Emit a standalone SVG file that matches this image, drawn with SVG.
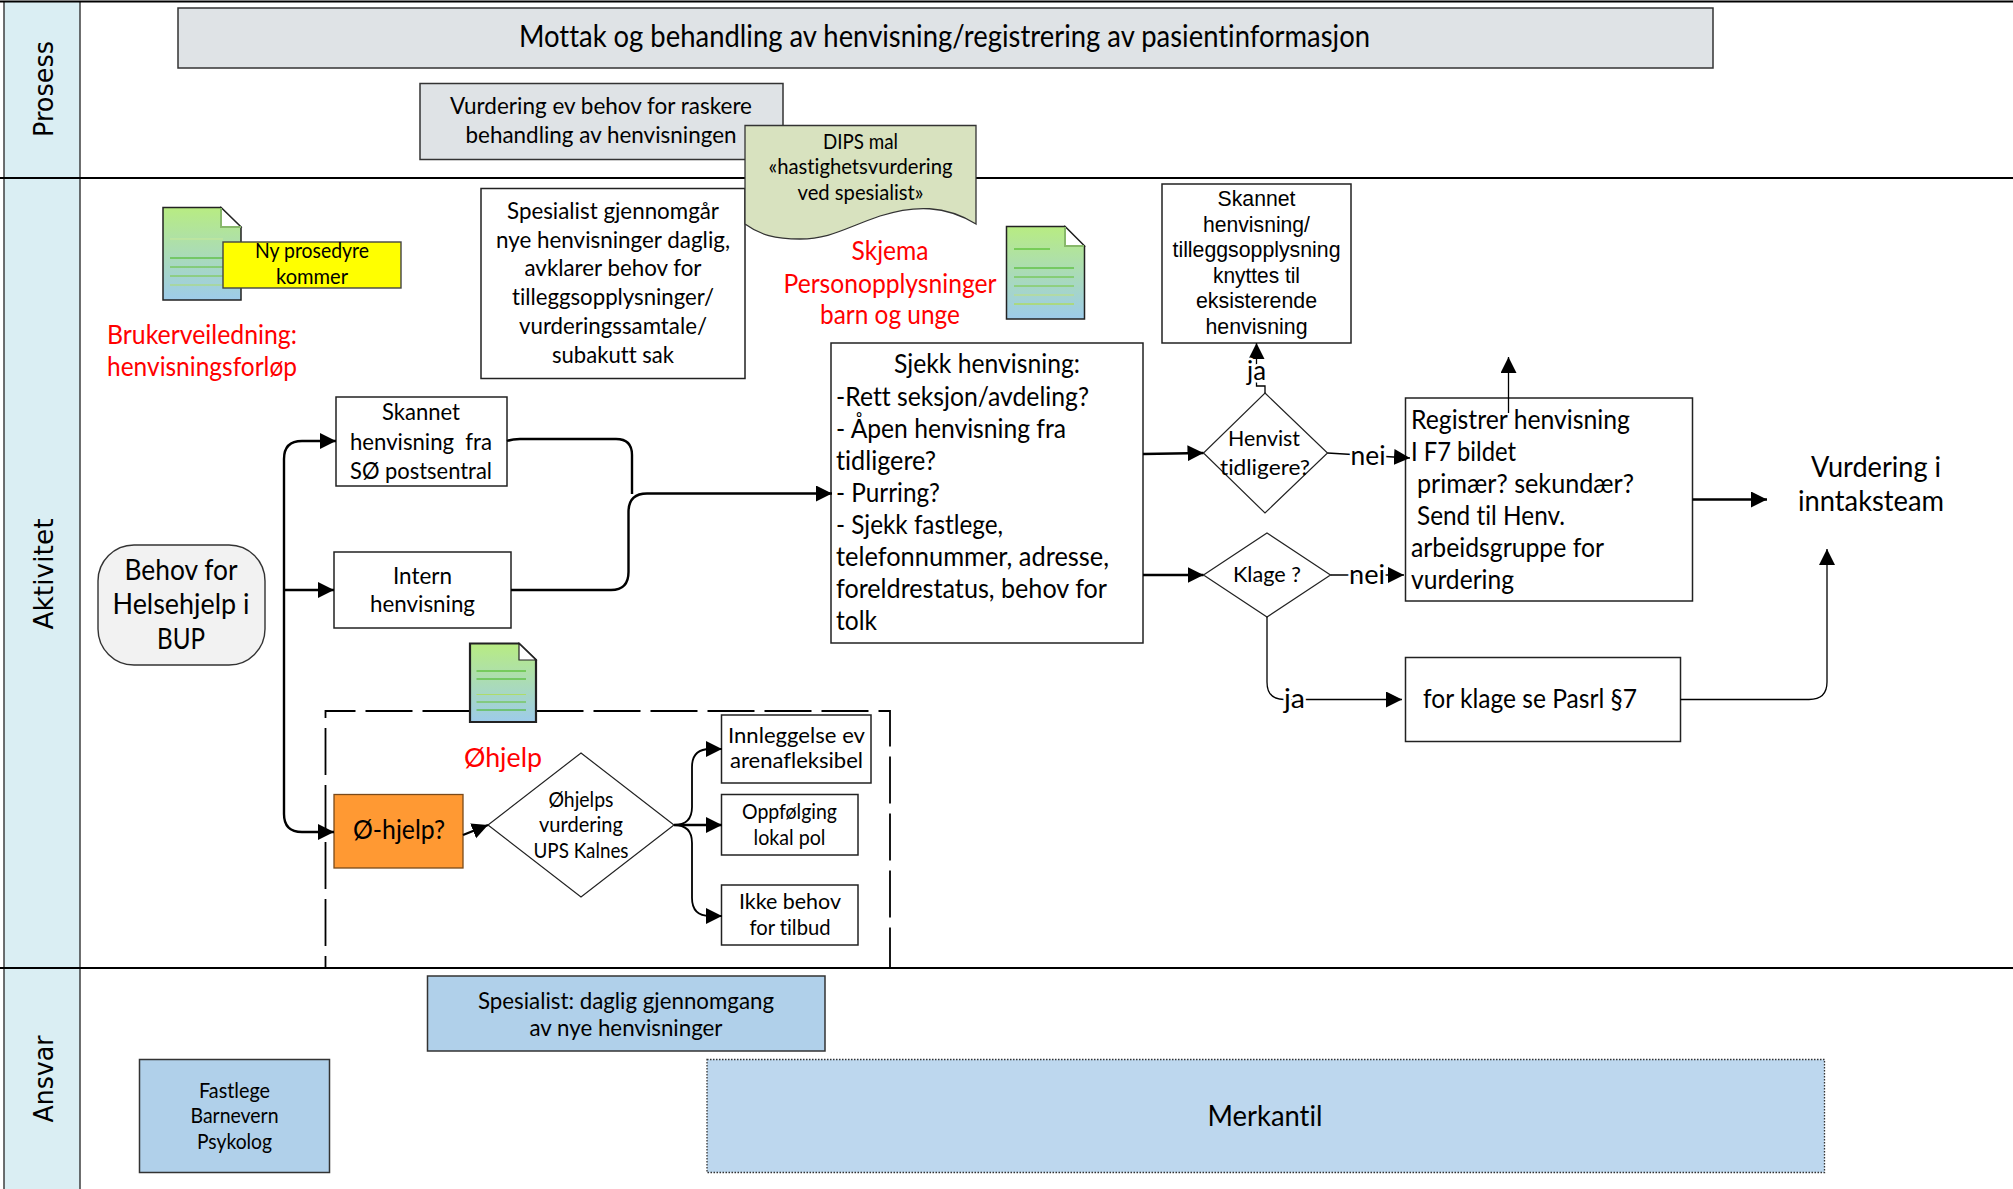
<svg xmlns="http://www.w3.org/2000/svg" width="2013" height="1189" viewBox="0 0 2013 1189">
<style>
text{font-family:Lato,"Liberation Sans",sans-serif;fill:#000;text-anchor:middle;font-variant-ligatures:none}
.l{text-anchor:start}
.r{fill:#f00;font-size:26.5px}
.a{font-family:"Liberation Sans",Arial,sans-serif;font-size:22.5px}
.lane{font-family:"DejaVu Sans",Verdana,sans-serif;font-size:27px}
.s20{font-size:21px}.s21{font-size:22px}.s22{font-size:23.5px}.s25{font-size:26.5px}.s27{font-size:28.5px}.s28{font-size:30px}
.box{fill:#fff;stroke:#222;stroke-width:1.5}
.grey{fill:#dfe3e6;stroke:#333;stroke-width:1.5}
.blue{fill:#b0d0ea;stroke:#333;stroke-width:1.5}
.doc{fill:url(#docg);stroke:#222;stroke-width:1.5}
.fold{fill:#fff;stroke:#222;stroke-width:1.2}
.foldb{fill:none;stroke:#88b86a;stroke-width:2}
.c{fill:none;stroke:#000;stroke-width:2.4}
.t{fill:none;stroke:#000;stroke-width:1.3}
.sep{stroke:#000;stroke-width:2.2}
.halo{stroke:#fff;stroke-width:5px;paint-order:stroke}
</style>
<defs>
<linearGradient id="docg" x1="0" y1="0" x2="0" y2="1"><stop offset="0" stop-color="#b8ec82"/><stop offset="1" stop-color="#9dcbea"/></linearGradient>
<marker id="ar" markerUnits="userSpaceOnUse" markerWidth="17" markerHeight="17" refX="16" refY="8" orient="auto"><path d="M0 0L16 8L0 16Z" fill="#000"/></marker>
</defs>
<rect width="2013" height="1189" fill="#fff"/>
<g id="lanes">
<rect x="4" y="1" width="76" height="1188" fill="#daeef3"/>
<path d="M4 1V1189M80 1V1189" stroke="#333" stroke-width="1.4" fill="none"/>
<path class="sep" d="M0 1.5H2013M0 178H2013M0 968H2013"/>
<text class="lane" transform="translate(53 89) rotate(-90)" textLength="96" lengthAdjust="spacingAndGlyphs">Prosess</text>
<text class="lane" transform="translate(53 574) rotate(-90)" textLength="111" lengthAdjust="spacingAndGlyphs">Aktivitet</text>
<text class="lane" transform="translate(53 1079) rotate(-90)" textLength="87" lengthAdjust="spacingAndGlyphs">Ansvar</text>
</g>
<g id="n-mottak"><rect class="grey" x="178" y="8" width="1535" height="60"/>
<text class="s28" x="944.5" y="47" textLength="851" lengthAdjust="spacingAndGlyphs">Mottak og behandling av henvisning/registrering av pasientinformasjon</text></g>
<g id="n-vurdering-raskere"><rect class="grey" x="420" y="83.500" width="363" height="76"/>
<text class="s22" x="601" y="114" textLength="302" lengthAdjust="spacingAndGlyphs">Vurdering ev behov for raskere</text>
<text class="s22" x="601" y="143" textLength="271" lengthAdjust="spacingAndGlyphs">behandling av henvisningen</text></g>
<g id="n-spesialist"><rect class="box" x="481" y="188.500" width="264" height="190"/>
<text class="s22" x="613" y="219" textLength="212" lengthAdjust="spacingAndGlyphs">Spesialist gjennomgår</text>
<text class="s22" x="613" y="247.500" textLength="234" lengthAdjust="spacingAndGlyphs">nye henvisninger daglig,</text>
<text class="s22" x="613" y="276" textLength="177" lengthAdjust="spacingAndGlyphs">avklarer behov for</text>
<text class="s22" x="613" y="305" textLength="202" lengthAdjust="spacingAndGlyphs">tilleggsopplysninger/</text>
<text class="s22" x="613" y="334" textLength="188" lengthAdjust="spacingAndGlyphs">vurderingssamtale/</text>
<text class="s22" x="613" y="363" textLength="122" lengthAdjust="spacingAndGlyphs">subakutt sak</text></g>
<g id="n-dips"><path d="M745 125.500H976V224C945 205 915 205 880 216C845 228 830 239 800 239C775 239 760 235 745 224Z" fill="#d8e2bf" stroke="#333" stroke-width="1.3"/>
<text class="s20" x="860.500" y="149" textLength="75" lengthAdjust="spacingAndGlyphs">DIPS mal</text>
<text class="s20" x="860.500" y="174" textLength="184" lengthAdjust="spacingAndGlyphs">«hastighetsvurdering</text>
<text class="s20" x="860.500" y="200" textLength="126" lengthAdjust="spacingAndGlyphs">ved spesialist»</text></g>
<g id="n-doc-brukerveiledning">
<path class="doc" d="M163 207.500H221L241 227V300H163Z"/>
<path class="fold" d="M221 207.500L241 227H221Z"/><path class="foldb" d="M221 208V227H241"/>
<path d="M170 239H223" stroke="#c8e89a"/><path d="M170 258H223" stroke="#3fb515"/><path d="M170 267H223" stroke="#62c030"/><path d="M170 276H223" stroke="#78c83a"/><path d="M170 285H223" stroke="#aedc6a"/>
<rect x="223" y="242" width="178" height="46" fill="#ff0" stroke="#444" stroke-width="1.4"/>
<text class="s20" x="312" y="258" textLength="114" lengthAdjust="spacingAndGlyphs">Ny prosedyre</text>
<text class="s20" x="312" y="284" textLength="72" lengthAdjust="spacingAndGlyphs">kommer</text>
<text class="r" x="202" y="344" textLength="190" lengthAdjust="spacingAndGlyphs">Brukerveiledning:</text>
<text class="r" x="202" y="376" textLength="190" lengthAdjust="spacingAndGlyphs">henvisningsforløp</text></g>
<g id="n-doc-skjema">
<path class="doc" d="M1006.500 226.500H1065L1084.500 246V319H1006.500Z"/>
<path class="fold" d="M1065 226.500L1084.500 246H1065Z"/><path class="foldb" d="M1065 227V246H1084"/>
<path d="M1014 249H1050M1014 268H1074" stroke="#3fb515"/><path d="M1014 277H1074" stroke="#62c030"/><path d="M1014 286H1074" stroke="#78c83a"/><path d="M1014 295H1074" stroke="#bfe07a"/><path d="M1014 304H1074" stroke="#b4e02a"/>
<text class="r" x="890" y="260" textLength="77" lengthAdjust="spacingAndGlyphs">Skjema</text>
<text class="r" x="890" y="293" textLength="213" lengthAdjust="spacingAndGlyphs">Personopplysninger</text>
<text class="r" x="890" y="324" textLength="140" lengthAdjust="spacingAndGlyphs">barn og unge</text></g>
<g id="n-behov"><rect x="98" y="545" width="167" height="120" rx="36" fill="#f2f2f2" stroke="#333" stroke-width="1.4"/>
<text class="s27" x="181" y="580" textLength="113" lengthAdjust="spacingAndGlyphs">Behov for</text>
<text class="s27" x="181" y="614" textLength="137" lengthAdjust="spacingAndGlyphs">Helsehjelp i</text>
<text class="s27" x="181" y="649" textLength="48" lengthAdjust="spacingAndGlyphs">BUP</text></g>
<g id="n-skannet-post"><rect class="box" x="336" y="397" width="171" height="89"/>
<text class="s22" x="421" y="420" textLength="78" lengthAdjust="spacingAndGlyphs">Skannet</text>
<text class="s22" x="421" y="449.500" textLength="142" lengthAdjust="spacingAndGlyphs" xml:space="preserve">henvisning  fra</text>
<text class="s22" x="421" y="478.500" textLength="142" lengthAdjust="spacingAndGlyphs">SØ postsentral</text></g>
<g id="n-intern"><rect class="box" x="334" y="552" width="177" height="76"/>
<text class="s22" x="422.500" y="583.500" textLength="59" lengthAdjust="spacingAndGlyphs">Intern</text>
<text class="s22" x="422.500" y="612" textLength="105" lengthAdjust="spacingAndGlyphs">henvisning</text></g>
<g id="n-ohjelp-gruppe">
<rect x="325.500" y="711" width="564.500" height="257" fill="none" stroke="#000" stroke-width="1.800" stroke-dasharray="47 10" stroke-dashoffset="17"/>
<path class="doc" style="stroke-width:2.200" d="M470 643.500H519L536 660V722H470Z"/>
<path class="fold" d="M519 643.500L536 660H519Z"/>
<path d="M476.500 671H526M476.500 679H526" stroke="#3fb515"/><path d="M476.500 694.500H526" stroke="#aedc6a"/><path d="M476.500 702H526" stroke="#62c030"/><path d="M476.500 710H526" stroke="#3fb515"/>
<text class="r" x="503" y="767" textLength="78" lengthAdjust="spacingAndGlyphs">Øhjelp</text></g>
<g id="n-ohjelp"><rect x="334" y="794.500" width="129" height="73.500" fill="#f93" stroke="#7a4a1a" stroke-width="1.300"/>
<text class="s25" x="399" y="838.500" textLength="92" lengthAdjust="spacingAndGlyphs">Ø-hjelp?</text></g>
<g id="n-ohjelp-vurdering"><path class="box" style="stroke-width:1.200" d="M581 753L674 825L581 897L488 825Z"/>
<text class="s20" x="581" y="806.500" textLength="65" lengthAdjust="spacingAndGlyphs">Øhjelps</text>
<text class="s20" x="581" y="831.500" textLength="84" lengthAdjust="spacingAndGlyphs">vurdering</text>
<text class="s20" x="581" y="857.500" textLength="95" lengthAdjust="spacingAndGlyphs">UPS Kalnes</text></g>
<g id="n-innleggelse"><rect class="box" x="721.500" y="715" width="149.500" height="68"/>
<text class="s21" x="796.500" y="743" textLength="137" lengthAdjust="spacingAndGlyphs">Innleggelse ev</text>
<text class="s21" x="796.500" y="768" textLength="133" lengthAdjust="spacingAndGlyphs">arenafleksibel</text></g>
<g id="n-oppfolging"><rect class="box" x="721.500" y="794.500" width="136.500" height="60.500"/>
<text class="s20" x="789.500" y="818.500" textLength="95" lengthAdjust="spacingAndGlyphs">Oppfølging</text>
<text class="s20" x="789.500" y="844.500" textLength="72" lengthAdjust="spacingAndGlyphs">lokal pol</text></g>
<g id="n-ikke"><rect class="box" x="721.500" y="885" width="136.500" height="60"/>
<text class="s21" x="790" y="909" textLength="102" lengthAdjust="spacingAndGlyphs">Ikke behov</text>
<text class="s21" x="790" y="935" textLength="81" lengthAdjust="spacingAndGlyphs">for tilbud</text></g>
<g id="n-sjekk"><rect class="box" x="831" y="343" width="312" height="300"/>
<text class="s25" x="987" y="373" textLength="186" lengthAdjust="spacingAndGlyphs">Sjekk henvisning:</text>
<text class="s25 l" x="836" y="405.500" textLength="253" lengthAdjust="spacingAndGlyphs">-Rett seksjon/avdeling?</text>
<text class="s25 l" x="836" y="437.500" textLength="230" lengthAdjust="spacingAndGlyphs">- Åpen henvisning fra</text>
<text class="s25 l" x="836" y="469.500" textLength="100" lengthAdjust="spacingAndGlyphs">tidligere?</text>
<text class="s25 l" x="836" y="501.500" textLength="104" lengthAdjust="spacingAndGlyphs">- Purring?</text>
<text class="s25 l" x="836" y="533.500" textLength="167" lengthAdjust="spacingAndGlyphs">- Sjekk fastlege,</text>
<text class="s25 l" x="836" y="565.500" textLength="273" lengthAdjust="spacingAndGlyphs">telefonnummer, adresse,</text>
<text class="s25 l" x="836" y="597.500" textLength="271" lengthAdjust="spacingAndGlyphs">foreldrestatus, behov for</text>
<text class="s25 l" x="836" y="629.500" textLength="41" lengthAdjust="spacingAndGlyphs">tolk</text></g>
<g id="n-skannet-knyttes"><rect class="box" x="1162" y="184" width="189" height="159"/>
<text class="a" x="1256.500" y="206" textLength="78" lengthAdjust="spacingAndGlyphs">Skannet</text>
<text class="a" x="1256.500" y="232" textLength="107" lengthAdjust="spacingAndGlyphs">henvisning/</text>
<text class="a" x="1256.500" y="257" textLength="168" lengthAdjust="spacingAndGlyphs">tilleggsopplysning</text>
<text class="a" x="1256.500" y="283" textLength="87" lengthAdjust="spacingAndGlyphs">knyttes til</text>
<text class="a" x="1256.500" y="308" textLength="121" lengthAdjust="spacingAndGlyphs">eksisterende</text>
<text class="a" x="1256.500" y="334" textLength="102" lengthAdjust="spacingAndGlyphs">henvisning</text></g>
<g id="n-henvist"><path class="box" style="stroke-width:1.200" d="M1265 393L1327.500 453L1265 513L1203.500 453Z"/>
<text class="s21" x="1264" y="446" textLength="72" lengthAdjust="spacingAndGlyphs">Henvist</text>
<text class="s21" x="1265" y="475" textLength="90" lengthAdjust="spacingAndGlyphs">tidligere?</text></g>
<g id="n-klage"><path class="box" style="stroke-width:1.200" d="M1267 533L1330.500 575L1267 617L1203.500 575Z"/>
<text class="s21" x="1267" y="582" textLength="68" lengthAdjust="spacingAndGlyphs">Klage ?</text></g>
<g id="n-registrer"><rect class="box" x="1405.500" y="398" width="287" height="203"/>
<text class="s25 l" x="1411" y="429" textLength="219" lengthAdjust="spacingAndGlyphs">Registrer henvisning</text>
<text class="s25 l" x="1411" y="461" textLength="105" lengthAdjust="spacingAndGlyphs">I F7 bildet</text>
<text class="s25 l" x="1417" y="493" textLength="217" lengthAdjust="spacingAndGlyphs">primær? sekundær?</text>
<text class="s25 l" x="1417" y="525" textLength="148" lengthAdjust="spacingAndGlyphs">Send til Henv.</text>
<text class="s25 l" x="1411" y="557" textLength="193" lengthAdjust="spacingAndGlyphs">arbeidsgruppe for</text>
<text class="s25 l" x="1411" y="589" textLength="103" lengthAdjust="spacingAndGlyphs">vurdering</text></g>
<g id="n-pasrl"><rect class="box" x="1405.500" y="657.500" width="275" height="84"/>
<text class="s25 l" x="1423" y="708" textLength="214" lengthAdjust="spacingAndGlyphs">for klage se Pasrl §7</text></g>
<g id="n-inntaksteam">
<text class="s27" x="1876" y="477" textLength="130" lengthAdjust="spacingAndGlyphs">Vurdering i</text>
<text class="s27" x="1871" y="511" textLength="146" lengthAdjust="spacingAndGlyphs">inntaksteam</text></g>
<g id="n-spesialist-ansvar"><rect class="blue" x="427.500" y="976" width="397.500" height="75"/>
<text class="s22" x="626" y="1008.500" textLength="296" lengthAdjust="spacingAndGlyphs">Spesialist: daglig gjennomgang</text>
<text class="s22" x="626" y="1035.500" textLength="193" lengthAdjust="spacingAndGlyphs">av nye henvisninger</text></g>
<g id="n-fastlege"><rect class="blue" x="139.500" y="1059.500" width="190" height="113"/>
<text class="s20" x="234.500" y="1097.500" textLength="71" lengthAdjust="spacingAndGlyphs">Fastlege</text>
<text class="s20" x="234.500" y="1122.500" textLength="88" lengthAdjust="spacingAndGlyphs">Barnevern</text>
<text class="s20" x="234.500" y="1148.500" textLength="75" lengthAdjust="spacingAndGlyphs">Psykolog</text></g>
<g id="n-merkantil"><rect x="707" y="1059.500" width="1117.500" height="113" fill="#bdd7ee" stroke="#333" stroke-width="1.300" stroke-dasharray="1.500 1.500"/>
<text class="s27" x="1265" y="1125.500" textLength="115" lengthAdjust="spacingAndGlyphs">Merkantil</text></g>
<g id="connectors">
<path class="c" marker-end="url(#ar)" d="M284 590V459Q284 441 302 441H336"/>
<path class="c" marker-end="url(#ar)" d="M284 590H334"/>
<path class="c" marker-end="url(#ar)" d="M284 590V814Q284 832 302 832H334"/>
<path class="c" d="M507 441C512 439 515 439 520 439H616Q632 439 632 455V494"/>
<path class="c" marker-end="url(#ar)" d="M511 590H611Q628.500 590 628.500 572V512Q628.500 493.500 647 493.500H832"/>
<path class="c" marker-end="url(#ar)" d="M463 835L488 825"/>
<path class="c" marker-end="url(#ar)" d="M674 825H722"/>
<path class="t" style="stroke-width:1.800" marker-end="url(#ar)" d="M674 825Q692 825 692 807V767Q692 749 710 749H722"/>
<path class="t" style="stroke-width:1.800" marker-end="url(#ar)" d="M674 825Q692 825 692 843V898Q692 916 710 916H722"/>
<path class="c" marker-end="url(#ar)" d="M1143 454L1203.500 453"/>
<path class="c" marker-end="url(#ar)" d="M1143 575H1203.500"/>
<path class="t" marker-end="url(#ar)" d="M1265 393V386H1256.500V343"/>
<text class="s25 halo" x="1256.500" y="380" textLength="19" lengthAdjust="spacingAndGlyphs">ja</text>
<path class="t" marker-end="url(#ar)" d="M1327.500 453L1410 458"/>
<text class="s25 halo" x="1368" y="465" textLength="35" lengthAdjust="spacingAndGlyphs">nei</text>
<path class="t" marker-end="url(#ar)" d="M1330.500 575H1404"/>
<text class="s25 halo" x="1367" y="583.500" textLength="36" lengthAdjust="spacingAndGlyphs">nei</text>
<path class="t" marker-end="url(#ar)" d="M1267 617V682Q1267 699.500 1284 699.500H1402"/>
<text class="s25 halo" x="1294.500" y="707.500" textLength="21" lengthAdjust="spacingAndGlyphs">ja</text>
<path class="t" marker-end="url(#ar)" d="M1508.500 413V357"/>
<path class="c" marker-end="url(#ar)" d="M1692.500 499.500H1767"/>
<path class="t" marker-end="url(#ar)" d="M1680.500 699.500H1809Q1827 699.500 1827 682V549"/>
</g>
</svg>
